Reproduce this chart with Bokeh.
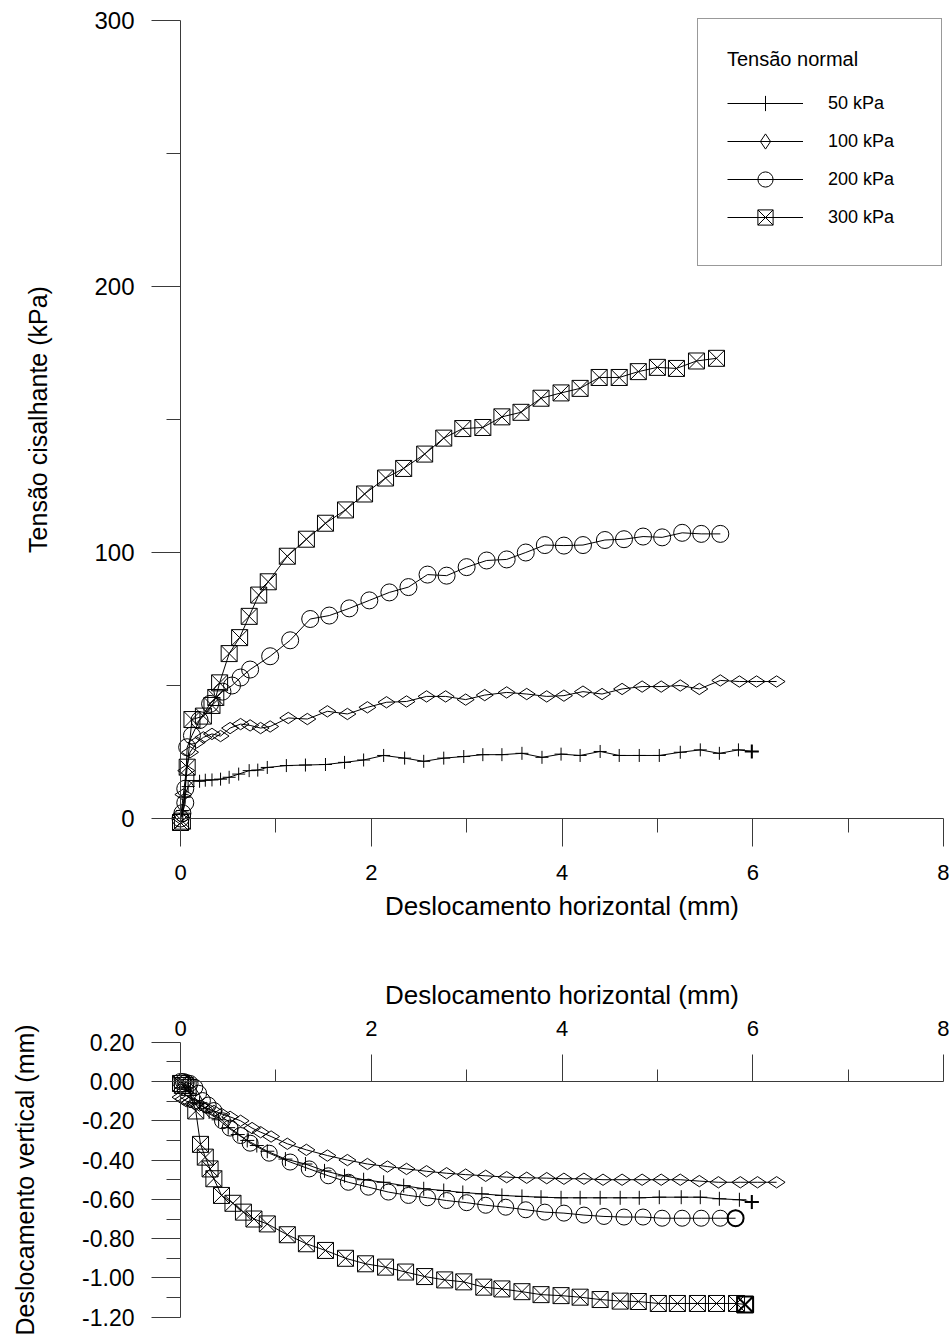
import numpy as np
from bokeh.plotting import figure
from bokeh.layouts import column
from bokeh.models import (FixedTicker, PrintfTickFormatter, Legend, LegendItem,
                          Range1d)
from bokeh.embed import file_html
from bokeh.resources import INLINE

# ---------------------------------------------------------------------------
# Direct shear tests: shear stress vs horizontal displacement (kPa, mm)
# ---------------------------------------------------------------------------
series_labels = ["50 kPa", "100 kPa", "200 kPa", "300 kPa"]

shear_x_50 = [0.0, 0.02, 0.04, 0.08, 0.14, 0.2, 0.26, 0.33, 0.42, 0.51,
              0.61, 0.72, 0.81, 0.91, 1.11, 1.31, 1.52, 1.72, 1.92, 2.13,
              2.35, 2.55, 2.76, 2.97, 3.17, 3.37, 3.58, 3.79, 3.99, 4.19,
              4.40, 4.60, 4.81, 5.02, 5.24, 5.45, 5.65, 5.85, 5.99]
shear_y_50 = [0.0, 3.0, 8.0, 12.0, 14.3, 14.0, 14.4, 14.5, 14.8, 15.5,
              16.7, 18.0, 18.2, 19.2, 19.9, 20.1, 20.3, 21.1, 22.0, 23.7,
              22.7, 21.5, 22.7, 23.3, 24.0, 24.0, 24.5, 23.0, 24.2, 23.7,
              25.2, 23.7, 23.7, 23.7, 24.9, 25.8, 24.5, 25.8, 25.2]

shear_x_100 = [0.0, 0.03, 0.06, 0.1, 0.17, 0.24, 0.33, 0.42, 0.52, 0.63,
               0.73, 0.84, 0.94, 1.13, 1.33, 1.54, 1.75, 1.96, 2.16, 2.37,
               2.58, 2.78, 2.99, 3.19, 3.42, 3.63, 3.84, 4.02, 4.22, 4.42,
               4.63, 4.84, 5.04, 5.24, 5.44, 5.66, 5.86, 6.04, 6.25]
shear_y_100 = [0.0, 9.0, 18.0, 24.9, 28.6, 30.5, 31.8, 31.0, 34.0, 35.5,
               35.0, 34.0, 34.6, 37.8, 37.4, 40.3, 39.3, 41.8, 43.7, 44.0,
               45.9, 45.9, 44.7, 46.4, 47.4, 46.8, 45.9, 46.2, 47.7, 46.8,
               48.7, 49.6, 49.6, 50.0, 48.7, 51.9, 51.5, 51.5, 51.5]

shear_x_200 = [0.0, 0.02, 0.05, 0.05, 0.07, 0.12, 0.2, 0.31, 0.44, 0.54,
               0.63, 0.73, 0.94, 1.15, 1.36, 1.56, 1.77, 1.98, 2.19, 2.39,
               2.59, 2.79, 3.0, 3.21, 3.42, 3.62, 3.82, 4.02, 4.22, 4.45,
               4.65, 4.85, 5.05, 5.26, 5.46, 5.66]
shear_y_200 = [0.0, 2.0, 5.9, 11.2, 26.8, 31.2, 37.0, 43.1, 47.7, 50.0,
               53.0, 56.0, 61.0, 67.0, 75.0, 76.3, 79.0, 82.0, 85.0, 87.0,
               91.7, 91.3, 94.5, 97.0, 97.4, 100.0, 102.8, 102.6, 102.8, 104.7,
               105.0, 106.0, 105.7, 107.4, 107.0, 107.0]

shear_x_300 = [0.0, 0.02, 0.07, 0.12, 0.24, 0.33, 0.37, 0.41, 0.51, 0.62,
               0.72, 0.82, 0.92, 1.12, 1.32, 1.52, 1.73, 1.93, 2.15, 2.34,
               2.56, 2.76, 2.96, 3.17, 3.37, 3.57, 3.78, 3.99, 4.19, 4.39,
               4.6, 4.8, 5.0, 5.2, 5.41, 5.62]
shear_y_300 = [-1.5, -1.0, 19.3, 37.2, 38.5, 42.5, 45.5, 51.0, 62.0, 68.0,
               76.0, 84.0, 89.0, 98.6, 105.0, 111.0, 116.0, 122.0, 128.0, 131.6,
               137.0, 143.0, 146.6, 147.0, 151.0, 152.7, 158.0, 160.0, 161.7, 165.8,
               165.8, 168.0, 169.6, 169.2, 172.0, 173.0]

# ---------------------------------------------------------------------------
# Vertical displacement vs horizontal displacement (mm)
# ---------------------------------------------------------------------------
vert_x_50 = [0.0, 0.05, 0.1, 0.2, 0.3, 0.4, 0.5, 0.6, 0.7, 0.8,
             0.91, 1.1, 1.31, 1.51, 1.72, 1.92, 2.13, 2.34, 2.55, 2.76,
             2.96, 3.16, 3.37, 3.58, 3.78, 3.99, 4.19, 4.4, 4.61, 4.81,
             5.02, 5.25, 5.45, 5.65, 5.86, 5.99]
vert_y_50 = [0.0, -0.03, -0.06, -0.11, -0.155, -0.195, -0.235, -0.27, -0.3, -0.326,
             -0.355, -0.395, -0.42, -0.455, -0.48, -0.5, -0.513, -0.53, -0.546, -0.555,
             -0.565, -0.572, -0.58, -0.585, -0.589, -0.592, -0.592, -0.592, -0.592, -0.592,
             -0.589, -0.589, -0.589, -0.597, -0.602, -0.614]

vert_x_100 = [0.0, 0.03, 0.06, 0.1, 0.15, 0.2, 0.27, 0.35, 0.43, 0.52,
              0.63, 0.75, 0.84, 0.95, 1.12, 1.32, 1.54, 1.75, 1.96, 2.17,
              2.37, 2.58, 2.79, 2.99, 3.2, 3.42, 3.63, 3.84, 4.02, 4.23,
              4.43, 4.63, 4.84, 5.04, 5.24, 5.44, 5.64, 5.87, 6.05, 6.25]
vert_y_100 = [-0.08, -0.09, -0.1, -0.105, -0.115, -0.122, -0.135, -0.15, -0.165, -0.18,
              -0.2, -0.237, -0.258, -0.28, -0.317, -0.348, -0.377, -0.4, -0.42, -0.433,
              -0.445, -0.457, -0.467, -0.474, -0.48, -0.487, -0.49, -0.492, -0.495, -0.495,
              -0.5, -0.5, -0.5, -0.5, -0.5, -0.507, -0.513, -0.513, -0.513, -0.513]

vert_x_200 = [0.0, 0.03, 0.06, 0.1, 0.15, 0.19, 0.23, 0.29, 0.35, 0.44,
              0.52, 0.63, 0.73, 0.93, 1.15, 1.35, 1.55, 1.76, 1.97, 2.18,
              2.39, 2.59, 2.79, 3.0, 3.2, 3.41, 3.62, 3.82, 4.02, 4.23,
              4.44, 4.65, 4.85, 5.05, 5.26, 5.46, 5.66, 5.82]
vert_y_200 = [0.0, 0.0, -0.005, -0.01, -0.03, -0.06, -0.097, -0.12, -0.148, -0.2,
              -0.237, -0.275, -0.314, -0.365, -0.41, -0.445, -0.48, -0.513, -0.538, -0.563,
              -0.58, -0.592, -0.606, -0.617, -0.63, -0.64, -0.653, -0.665, -0.67, -0.68,
              -0.687, -0.69, -0.69, -0.696, -0.696, -0.696, -0.696, -0.696]

vert_x_300 = [0.0, 0.02, 0.05, 0.08, 0.16, 0.21, 0.26, 0.31, 0.35, 0.43,
              0.55, 0.66, 0.77, 0.91, 1.12, 1.32, 1.52, 1.73, 1.94, 2.15,
              2.36, 2.56, 2.77, 2.97, 3.18, 3.37, 3.58, 3.78, 3.99, 4.19,
              4.40, 4.61, 4.80, 5.01, 5.21, 5.42, 5.62, 5.83, 5.92]
vert_y_300 = [-0.01, -0.02, -0.02, -0.03, -0.15, -0.32, -0.385, -0.445, -0.495, -0.58,
              -0.62, -0.665, -0.7, -0.725, -0.78, -0.826, -0.86, -0.9, -0.928, -0.945,
              -0.97, -0.993, -1.01, -1.02, -1.047, -1.056, -1.07, -1.085, -1.09, -1.098,
              -1.11, -1.118, -1.12, -1.13, -1.13, -1.13, -1.13, -1.13, -1.135]

# Axis ticks
horiz_ticks = [0, 2, 4, 6, 8]
horiz_minor = [1, 3, 5, 7]
shear_ticks = [0, 100, 200, 300]
shear_minor = [50, 150, 250]
vert_ticks = [-1.2, -1.0, -0.8, -0.6, -0.4, -0.2, 0.0, 0.2]
vert_minor = [-1.1, -0.9, -0.7, -0.5, -0.3, -0.1, 0.1]

# ---------------------------------------------------------------------------
# Styling
# ---------------------------------------------------------------------------
FONT = "Liberation Sans"
AXIS_COLOR = "#3a3a3a"

# marker style per normal stress: (marker, size top, size bottom, angle)
marker_styles = [
    ("cross", 13, 14, 0.0),
    ("diamond", 17, 17, np.pi / 2),
    ("circle", 17, 16, 0.0),
    ("square_x", 16, 16, 0.0),
]


def style_axis(ax, major_out, minor_out, label_px, label_standoff,
               title_px, title_standoff):
    ax.axis_line_color = AXIS_COLOR
    ax.axis_line_width = 1
    ax.major_tick_line_color = AXIS_COLOR
    ax.minor_tick_line_color = AXIS_COLOR
    ax.major_tick_in = 0
    ax.major_tick_out = major_out
    ax.minor_tick_in = 0
    ax.minor_tick_out = minor_out
    ax.major_label_text_font = FONT
    ax.major_label_text_font_size = f"{label_px}px"
    ax.major_label_text_color = "black"
    ax.major_label_standoff = label_standoff
    ax.axis_label_text_font = FONT
    ax.axis_label_text_font_size = f"{title_px}px"
    ax.axis_label_text_font_style = "normal"
    ax.axis_label_text_color = "black"
    ax.axis_label_standoff = title_standoff


def base_figure(height, x_range, y_range, **kw):
    # the frame fills the whole canvas; the axes sit at the data origin
    p = figure(width=949, height=height, x_range=x_range, y_range=y_range,
               output_backend="svg", toolbar_location=None,
               min_border_left=0, min_border_right=0,
               min_border_top=0, min_border_bottom=0,
               background_fill_color="white", border_fill_color="white", **kw)
    p.outline_line_color = None
    p.xgrid.visible = False
    p.ygrid.visible = False
    return p


def plot_series(p, xs, ys, marker, size, angle):
    lr = p.line(xs, ys, line_color="black", line_width=1)
    sr = p.scatter(xs, ys, marker=marker, size=size, angle=angle,
                   line_color="black", line_width=1, fill_color=None)
    return lr, sr


# horizontal scale shared by both panels (95.375 px per mm, origin at x=180 px)
x_range_top = Range1d(-1.8873, 8.0629)
x_range_bot = Range1d(-1.8873, 8.0629)

# ---------------------------------------------------------------------------
# Upper panel: shear stress (2.66 px per kPa, origin at y=818 px)
# ---------------------------------------------------------------------------
p1 = base_figure(940, x_range_top, Range1d(-45.86, 307.52))

shear_data = [(shear_x_50, shear_y_50), (shear_x_100, shear_y_100),
              (shear_x_200, shear_y_200), (shear_x_300, shear_y_300)]
legend_items = []
for (xs, ys), (mk, size_top, _, ang), lab in zip(shear_data, marker_styles, series_labels):
    lr, sr = plot_series(p1, xs, ys, mk, size_top, ang)
    legend_items.append(LegendItem(label=lab, renderers=[lr, sr]))

# last reading of the 50 kPa test is drawn heavier
p1.scatter([shear_x_50[-1]], [shear_y_50[-1]], marker="cross", size=14,
           line_color="black", line_width=2)

xa = p1.xaxis[0]
xa.fixed_location = 0
xa.bounds = (0, 8)
xa.ticker = FixedTicker(ticks=horiz_ticks, minor_ticks=horiz_minor)
xa.axis_label = "Deslocamento horizontal (mm)"
style_axis(xa, 28, 14, 22, 18, 26, 8)

ya = p1.yaxis[0]
ya.fixed_location = 0
ya.bounds = (0, 300)
ya.ticker = FixedTicker(ticks=shear_ticks, minor_ticks=shear_minor)
ya.axis_label = "Tensão cisalhante (kPa)"
style_axis(ya, 29, 14, 24, 17, 25, 39)

legend = Legend(items=legend_items, title="Tensão normal", location=(697, 674),
                margin=0, padding=29, spacing=0,
                glyph_width=76, glyph_height=38, label_standoff=25,
                label_width=84,
                label_text_font=FONT, label_text_font_size="18px",
                label_text_color="black",
                title_text_font=FONT, title_text_font_size="20px",
                title_text_color="black",
                title_text_font_style="normal", title_standoff=13,
                border_line_color="#333333", border_line_width=1,
                background_fill_color="white", background_fill_alpha=1.0)
p1.add_layout(legend)

# ---------------------------------------------------------------------------
# Lower panel: vertical displacement (196.43 px per mm, origin at y=141 px)
# ---------------------------------------------------------------------------
p2 = base_figure(400, x_range_bot, Range1d(-1.3185, 0.7178),
                 x_axis_location="above")

vert_data = [(vert_x_50, vert_y_50), (vert_x_100, vert_y_100),
             (vert_x_200, vert_y_200), (vert_x_300, vert_y_300)]
for (xs, ys), (mk, _, size_bot, ang) in zip(vert_data, marker_styles):
    plot_series(p2, xs, ys, mk, size_bot, ang)

# final readings drawn heavier
for (xs, ys), (mk, _, size_bot, ang) in zip([vert_data[0], vert_data[2], vert_data[3]],
                                            [marker_styles[0], marker_styles[2], marker_styles[3]]):
    p2.scatter([xs[-1]], [ys[-1]], marker=mk, size=size_bot, angle=ang,
               line_color="black", line_width=2, fill_color=None)

xb = p2.xaxis[0]
xb.fixed_location = 0
xb.bounds = (0, 8)
xb.ticker = FixedTicker(ticks=horiz_ticks, minor_ticks=horiz_minor)
xb.axis_label = "Deslocamento horizontal (mm)"
style_axis(xb, 27, 12, 22, 19, 26, 8)

yb = p2.yaxis[0]
yb.fixed_location = 0
yb.bounds = (-1.2, 0.2)
yb.ticker = FixedTicker(ticks=vert_ticks, minor_ticks=vert_minor)
yb.formatter = PrintfTickFormatter(format="%.2f")
yb.axis_label = "Deslocamento vertical (mm)"
style_axis(yb, 29, 14, 23, 17, 25, 40)

layout = column(p1, p2, spacing=0)

with open("out.html", "w") as f:
    f.write(file_html(layout, INLINE))
